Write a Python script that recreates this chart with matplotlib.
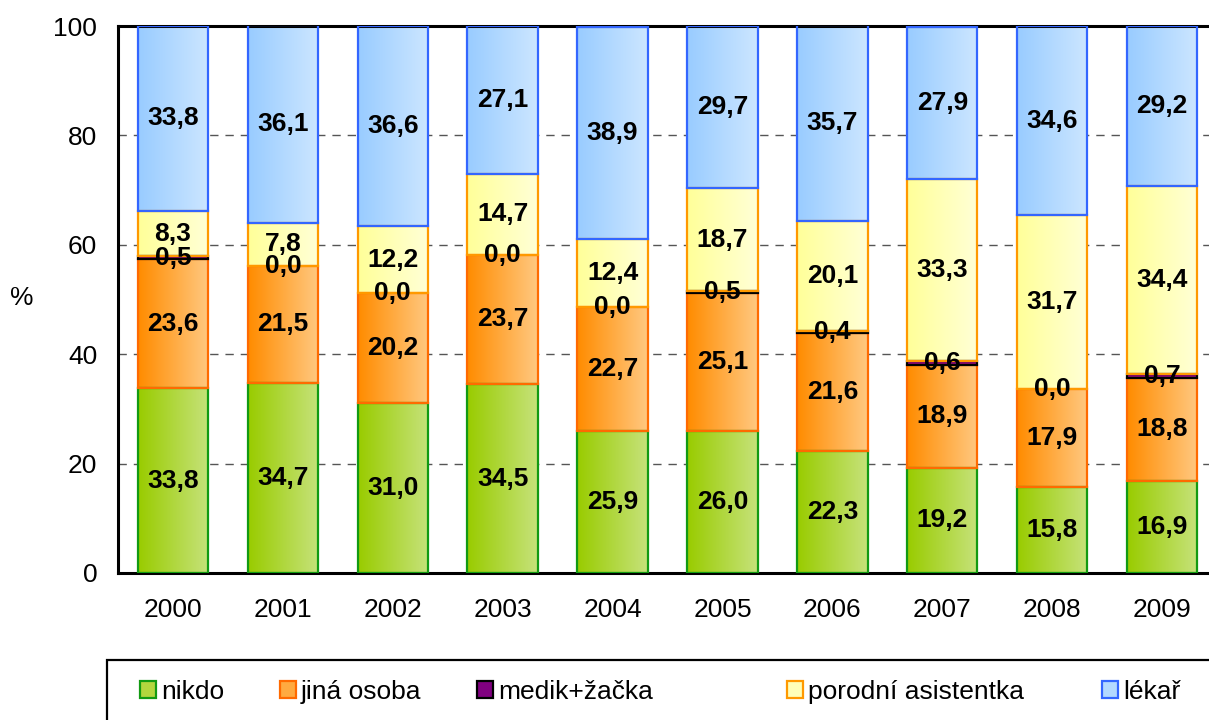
import numpy as np
import matplotlib
matplotlib.use("Agg")
import matplotlib.pyplot as plt
from matplotlib.colors import LinearSegmentedColormap
from matplotlib.patches import Patch, Rectangle

plt.rcParams['font.family'] = ['Liberation Sans', 'DejaVu Sans']

years = ['2000', '2001', '2002', '2003', '2004', '2005', '2006', '2007', '2008', '2009']
series_names = ['nikdo', 'jiná osoba', 'medik+žačka', 'porodní asistentka', 'lékař']
nikdo = [33.8, 34.7, 31.0, 34.5, 25.9, 26.0, 22.3, 19.2, 15.8, 16.9]
jina_osoba = [23.6, 21.5, 20.2, 23.7, 22.7, 25.1, 21.6, 18.9, 17.9, 18.8]
medik_zacka = [0.5, 0.0, 0.0, 0.0, 0.0, 0.5, 0.4, 0.6, 0.0, 0.7]
porodni_asistentka = [8.3, 7.8, 12.2, 14.7, 12.4, 18.7, 20.1, 33.3, 31.7, 34.4]
lekar = [33.8, 36.1, 36.6, 27.1, 38.9, 29.7, 35.7, 27.9, 34.6, 29.2]
y_ticks = [0, 20, 40, 60, 80, 100]

series = [nikdo, jina_osoba, medik_zacka, porodni_asistentka, lekar]
grad_left = ['#99CC00', '#FF8C00', '#800080', '#FFFF99', '#99CCFF']
grad_right = ['#C6E27A', '#FFC880', '#800080', '#FFFFD6', '#CCE6FF']
edges = ['#129A12', '#FF6A00', '#000000', '#FF9900', '#3366FF']
mids = ['#B3D63E', '#FFAA40', '#800080', '#FFFFB8', '#B3D9FF']

FS = 19
W, H = 1209, 720
fig = plt.figure(figsize=(W / 100, H / 100), dpi=100)
ax = fig.add_axes([118 / W, (720 - 573) / H, (1217 - 118) / W, (573 - 26) / H])

x = np.arange(len(years))
bottom = np.zeros(len(years))
grad = np.linspace(0, 1, 64).reshape(1, -1)
for i, vals in enumerate(series):
    vals = np.array(vals)
    lws = [1.6 if v > 0 else 0 for v in vals]
    bars = ax.bar(x, vals, width=0.64, bottom=bottom, facecolor='none',
                  edgecolor=edges[i], linewidth=lws, zorder=3)
    cmap = LinearSegmentedColormap.from_list('g%d' % i, [grad_left[i], grad_right[i]])
    for b in bars:
        bx, by, bw, bh = b.get_x(), b.get_y(), b.get_width(), b.get_height()
        if bh <= 0:
            continue
        im = ax.imshow(grad, extent=[bx, bx + bw, by, by + bh], aspect='auto',
                       cmap=cmap, origin='lower', zorder=2, interpolation='bilinear')
        im.set_clip_path(b)
    for xi, v, b0 in zip(x, vals, bottom):
        ax.text(xi, b0 + v / 2, f"{v:.1f}".replace('.', ','), ha='center', va='center',
                fontsize=FS, fontweight='bold', color='black', zorder=5)
    bottom = bottom + vals

ax.set_xlim(-0.5, len(years) - 0.5)
ax.set_ylim(0, 100)
ax.set_yticks(y_ticks)
ax.set_xticks(x)
ax.set_xticklabels(years)
ax.tick_params(axis='both', length=0, labelsize=FS)
ax.tick_params(axis='y', pad=15)
ax.tick_params(axis='x', pad=18)
ax.yaxis.grid(True, linestyle=(0, (6, 5)), color='#555555', linewidth=1)
ax.set_axisbelow(True)
for s in ['left', 'bottom', 'top']:
    ax.spines[s].set_linewidth(2.2)
    ax.spines[s].set_color('black')
ax.spines['right'].set_visible(False)

fig.text(22 / W, 1 - 298 / H, '%', ha='center', va='center', fontsize=FS)

# legend frame
fig.add_artist(Rectangle((107 / W, -0.2), 1.2, 0.2 + (720 - 660) / H,
                         transform=fig.transFigure, facecolor='none',
                         edgecolor='black', linewidth=1.6, clip_on=False))
legend_x_px = [140, 280, 477, 787, 1102]
for i in range(5):
    h = Patch(facecolor=mids[i], edgecolor=edges[i], linewidth=1.6)
    leg = fig.legend([h], [series_names[i]], loc='center left',
                     bbox_to_anchor=(legend_x_px[i] / W, 28 / H),
                     frameon=False, fontsize=FS, handlelength=0.6, handleheight=0.6,
                     handletextpad=0.2, borderpad=0, borderaxespad=0)

fig.savefig('out.png', dpi=100)
